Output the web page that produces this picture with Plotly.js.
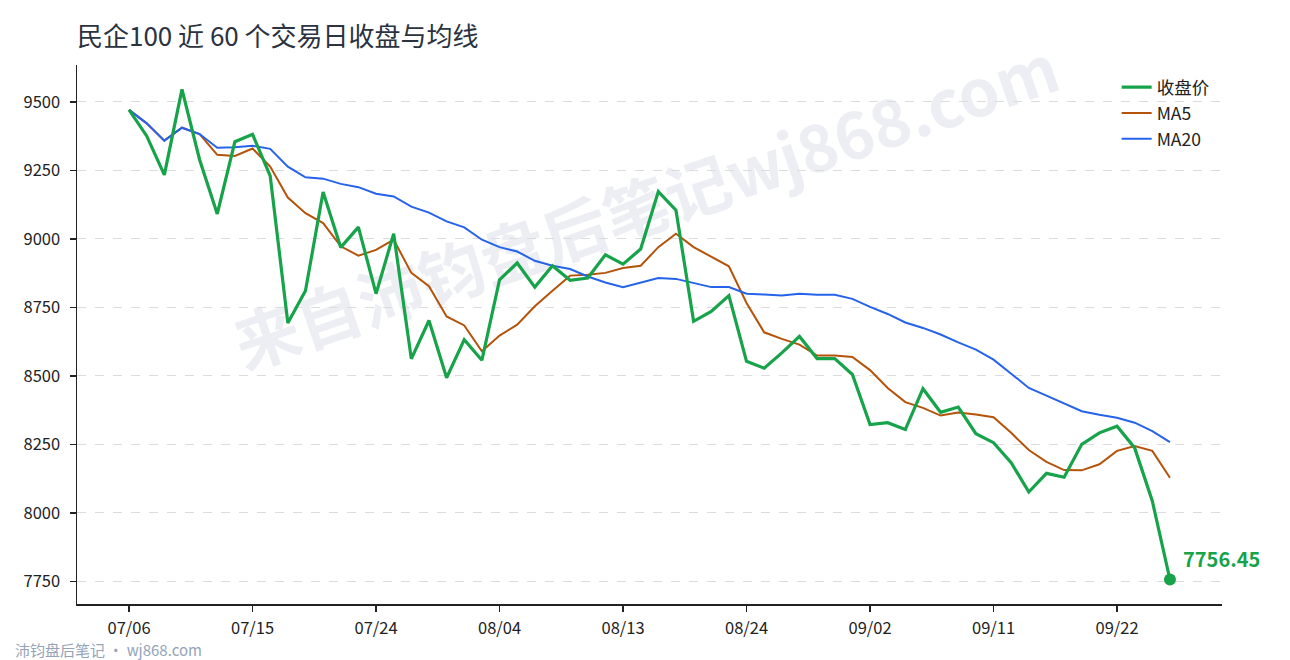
<!DOCTYPE html>
<html>
<head>
<meta charset="utf-8">
<script src="https://cdn.plot.ly/plotly-3.0.1.min.js"></script>
<style>
    html, body { margin: 0; padding: 0; background: #ffffff; }
    #wrap { position: relative; width: 1290px; height: 660px; overflow: hidden; }
    #watermark {
        position: absolute; left: 645px; top: 203px; z-index: 0;
        transform: translate(-50%, -50%) rotate(-19deg);
        font-family: "Noto Sans CJK SC", sans-serif; font-weight: 700; font-size: 65px;
        color: #eceef3; white-space: nowrap; pointer-events: none;
    }
    #chart { position: absolute; left: 0; top: 0; width: 1290px; height: 660px; z-index: 1; }
</style>
</head>
<body>
<div id="wrap">
    <div id="watermark">来自沛钧盘后笔记wj868.com</div>
    <div id="chart"></div>
</div>
<script>
// 60 trading days, ticks every 7 sessions
const tickIdx = [0, 7, 14, 21, 28, 35, 42, 49, 56];
const tickLabels = ['07/06', '07/15', '07/24', '08/04', '08/13', '08/24', '09/02', '09/11', '09/22'];

const closes = [
    9471, 9376, 9234, 9546, 9289, 9091, 9355, 9382, 9230, 8693,
    8811, 9171, 8969, 9043, 8800, 9019, 8562, 8702, 8493, 8632,
    8557, 8851, 8912, 8824, 8902, 8849, 8857, 8942, 8908, 8963,
    9173, 9105, 8699, 8735, 8793, 8553, 8528, 8584, 8644, 8563,
    8563, 8505, 8322, 8329, 8304, 8453, 8367, 8386, 8289, 8256,
    8183, 8076, 8144, 8130, 8250, 8292, 8316, 8237, 8043, 7756.45,
];

const ma5 = [
    9471, 9422, 9359, 9406, 9383, 9307, 9303, 9330, 9264, 9151,
    9094, 9058, 8973, 8939, 8960, 8997, 8876, 8827, 8717, 8684,
    8590, 8647, 8687, 8754, 8811, 8866, 8869, 8876, 8894, 8902,
    8970, 9019, 8970, 8934, 8900, 8766, 8659, 8635, 8614, 8574,
    8574, 8569, 8521, 8456, 8404, 8383, 8355, 8366, 8359, 8349,
    8292, 8229, 8186, 8156, 8155, 8177, 8226, 8244, 8226, 8128,
];

const ma20 = [
    9471, 9422, 9359, 9406, 9383, 9333, 9335, 9340, 9329, 9264,
    9225, 9220, 9201, 9189, 9165, 9155, 9118, 9096, 9064, 9042,
    8997, 8970, 8954, 8920, 8902, 8890, 8863, 8841, 8824, 8841,
    8857, 8854, 8839, 8824, 8824, 8800, 8797, 8793, 8800, 8796,
    8796, 8781, 8752, 8726, 8695, 8675, 8651, 8622, 8596, 8559,
    8508, 8456, 8428, 8398, 8371, 8358, 8347, 8329, 8298, 8258,
];

const yTicks = [7750, 8000, 8250, 8500, 8750, 9000, 9250, 9500];

const GREEN = '#16a34a';
const BROWN = '#b45309';
const BLUE = '#2563eb';
const FONT = '"Noto Sans CJK SC", "Noto Sans", sans-serif';

const xs = closes.map((_, i) => i);
const last = closes.length - 1;

const traces = [
    {
        x: xs, y: ma5, type: 'scatter', mode: 'lines', name: 'MA5',
        line: { color: BROWN, width: 2 }, legendrank: 2,
    },
    {
        x: xs, y: ma20, type: 'scatter', mode: 'lines', name: 'MA20',
        line: { color: BLUE, width: 2 }, legendrank: 3,
    },
    {
        x: xs, y: closes, type: 'scatter', mode: 'lines', name: '收盘价',
        line: { color: GREEN, width: 3.2 }, legendrank: 1,
    },
    {
        x: [xs[last]], y: [closes[last]], type: 'scatter', mode: 'markers',
        marker: { color: GREEN, size: 12 }, showlegend: false, hoverinfo: 'skip',
    },
];

const layout = {
    width: 1290,
    height: 660,
    margin: { l: 77, r: 68, t: 65, b: 56 },
    paper_bgcolor: 'rgba(0,0,0,0)',
    plot_bgcolor: 'rgba(0,0,0,0)',
    font: { family: FONT, size: 16, color: '#222222' },
    title: {
        text: '民企100 近 60 个交易日收盘与均线',
        font: { family: FONT, size: 26, color: '#2b3240' },
        x: 0, xref: 'paper', xanchor: 'left',
        y: 1 - 37 / 660, yref: 'container', yanchor: 'middle',
    },
    xaxis: {
        range: [-2.95, 61.95],
        tickvals: tickIdx,
        ticktext: tickLabels,
        showgrid: false,
        zeroline: false,
        showline: true, linecolor: '#222222', linewidth: 1.5,
        ticks: 'outside', ticklen: 6, tickwidth: 1.5, tickcolor: '#222222',
        ticklabelstandoff: 3,
        tickfont: { family: FONT, size: 16.5, color: '#222222' },
    },
    yaxis: {
        range: [7667, 9635],
        tickvals: yTicks,
        showgrid: true, gridcolor: '#dcdcdc', griddash: 'dash', gridwidth: 1,
        zeroline: false,
        showline: true, linecolor: '#222222', linewidth: 1.5,
        ticks: 'outside', ticklen: 6, tickwidth: 1.5, tickcolor: '#222222',
        ticklabelstandoff: 6,
        tickfont: { family: FONT, size: 16.5, color: '#222222' },
    },
    showlegend: true,
    legend: {
        x: 0.908, xanchor: 'left',
        y: 0.992, yanchor: 'top',
        bgcolor: 'rgba(0,0,0,0)',
        font: { family: FONT, size: 17.5, color: '#222222' },
        tracegroupgap: 0,
    },
    annotations: [
        {
            x: xs[last], y: closes[last], xref: 'x', yref: 'y',
            text: '<b>' + closes[last].toFixed(2) + '</b>',
            showarrow: false, xanchor: 'left', yanchor: 'middle',
            xshift: 11, yshift: 21,
            font: { family: FONT, size: 20, color: GREEN },
        },
        {
            x: (13 - 77) / 1145, y: (604 - 649) / 539, xref: 'paper', yref: 'paper',
            text: '沛钧盘后笔记 · wj868.com',
            showarrow: false, xanchor: 'left', yanchor: 'middle',
            font: { family: FONT, size: 15, color: '#94a3b8' },
        },
    ],
};

Plotly.newPlot('chart', traces, layout, { displayModeBar: false, staticPlot: true });
</script>
</body>
</html>
